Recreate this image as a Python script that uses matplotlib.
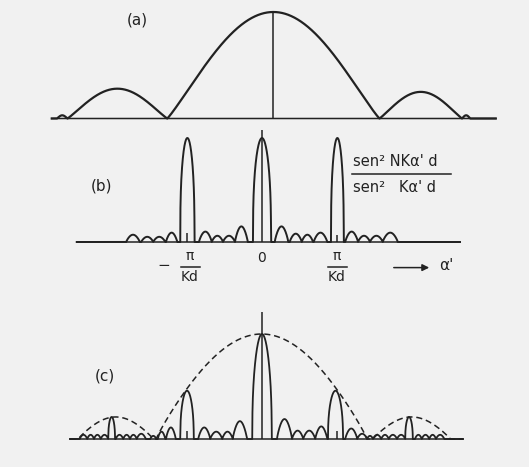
import numpy as np
import matplotlib.pyplot as plt
from matplotlib.lines import Line2D

# x in units of pi/Kd, intensity normalised to the central maximum of each panel

# (a) single-slit pattern: lobes between consecutive zeros
a_start = [-2.88, -2.74, -1.41, 1.42, 2.52]
a_end = [-2.74, -1.41, 1.42, 2.52, 2.63]
a_height = [0.03, 0.28, 1.00, 0.25, 0.03]

# (b) grating factor sen^2(NKa'd)/sen^2(Ka'd)
b_peak_start = [-1.09, -0.12, 0.92]
b_peak_end = [-0.90, 0.12, 1.09]
b_peak_height = [1.0, 1.0, 1.0]
b_lobe_start = [-1.81, -1.61, -1.45, -1.28, -0.84, -0.67, -0.52, -0.36,
                0.17, 0.37, 0.53, 0.69, 1.11, 1.28, 1.44, 1.61]
b_lobe_end = [-1.63, -1.45, -1.29, -1.13, -0.67, -0.52, -0.36, -0.19,
              0.35, 0.53, 0.68, 0.87, 1.28, 1.44, 1.61, 1.81]
b_lobe_height = [0.07, 0.05, 0.05, 0.09, 0.10, 0.06, 0.06, 0.15,
                 0.15, 0.08, 0.07, 0.09, 0.10, 0.06, 0.06, 0.09]
b_mark_pos = [-1.0, 0.0, 1.0]
b_mark_height = [0.09, 1.08, 0.07]

# (c) product of both
c_peak_start = [-2.05, -1.09, -0.13, 0.88, 1.91]
c_peak_end = [-1.96, -0.91, 0.13, 1.08, 2.01]
c_peak_height = [0.21, 0.46, 1.00, 0.46, 0.21]
c_lobe_start = [-2.43, -2.33, -2.24, -2.15, -1.95, -1.85, -1.76, -1.67,
                -1.49, -1.39, -1.28, -0.85, -0.69, -0.53, -0.39,
                0.20, 0.40, 0.55, 0.71, 1.11, 1.27, 1.40,
                1.48, 1.59, 1.69, 1.80, 2.04, 2.13, 2.23, 2.32]
c_lobe_end = [-2.33, -2.24, -2.15, -2.05, -1.85, -1.76, -1.67, -1.55,
              -1.41, -1.29, -1.15, -0.69, -0.53, -0.39, -0.20,
              0.40, 0.55, 0.71, 0.87, 1.27, 1.40, 1.48,
              1.59, 1.69, 1.80, 1.91, 2.13, 2.23, 2.32, 2.43]
c_lobe_height = [0.04, 0.04, 0.04, 0.04, 0.04, 0.04, 0.04, 0.05,
                 0.03, 0.07, 0.11, 0.11, 0.07, 0.07, 0.17,
                 0.19, 0.08, 0.08, 0.12, 0.10, 0.05, 0.03,
                 0.04, 0.04, 0.04, 0.04, 0.04, 0.04, 0.04, 0.04]
c_env_start = [-2.45, -1.41, 1.48]
c_env_end = [-1.45, 1.40, 2.51]
c_env_height = [0.21, 1.00, 0.21]
c_mark_pos = [-1.0, 0.0, 1.0]
c_mark_height = [0.08, 1.21, 0.08]

W, H = 529, 467
INK = '#222222'
UNIT = 75.0  # pixels per pi/Kd

fig = plt.figure(figsize=(W / 100, H / 100), dpi=100)
fig.patch.set_facecolor('#f1f1f1')


def panel(center, base, scale):
    ax = fig.add_axes([0, 0, 1, 1])
    ax.set_xlim(-center / UNIT, (W - center) / UNIT)
    ax.set_ylim((base - H) / scale, base / scale)
    ax.axis('off')
    ax.patch.set_alpha(0)
    return ax


def arches(x, starts, ends, heights, p):
    y = np.zeros_like(x)
    for s, e, h in zip(starts, ends, heights):
        t = (x - s) / (e - s)
        inside = (t > 0) & (t < 1)
        y[inside] += h * np.sin(np.pi * t[inside]) ** p
    return y


def txt(x, y, s, size=10, **kw):
    fig.text(x / W, 1 - y / H, s, fontsize=size, color=INK,
             ha=kw.pop('ha', 'center'), va=kw.pop('va', 'center'), **kw)


def bar(x0, x1, y):
    fig.add_artist(Line2D([x0 / W, x1 / W], [1 - y / H] * 2,
                          transform=fig.transFigure, color=INK, lw=1.1))


# panel (a)
axA = panel(273, 118.5, 106.5)
x = np.linspace(-2.95, 2.97, 4000)
axA.plot(x, np.zeros_like(x), color=INK, lw=1.1)
axA.plot(x, arches(x, a_start, a_end, a_height, 1.1), color=INK, lw=1.6)
axA.vlines(0, 0, 1.0, color=INK, lw=1.1)

# panel (b)
axB = panel(262, 242, 104)
x = np.linspace(-2.47, 2.64, 6000)
yb = arches(x, b_peak_start, b_peak_end, b_peak_height, 0.35)
yb += arches(x, b_lobe_start, b_lobe_end, b_lobe_height, 0.8)
axB.plot(x, np.zeros_like(x), color=INK, lw=1.1)
axB.plot(x, yb, color=INK, lw=1.4)
axB.vlines(b_mark_pos, 0, b_mark_height, color=INK, lw=1.1)

# panel (c)
axC = panel(262, 439, 105)
x = np.linspace(-2.56, 2.68, 6000)
yc = arches(x, c_peak_start, c_peak_end, c_peak_height, 0.4)
yc += arches(x, c_lobe_start, c_lobe_end, c_lobe_height, 0.8)
axC.plot(x, np.zeros_like(x), color=INK, lw=1.1)
axC.plot(x, yc, color=INK, lw=1.3)
axC.plot(x, arches(x, c_env_start, c_env_end, c_env_height, 0.9),
         color=INK, lw=1.1, ls=(0, (4, 2.5)))
axC.vlines(c_mark_pos, 0, c_mark_height, color=INK, lw=1.1)

# labels
txt(137, 20, '(a)', 11)
txt(101, 186, '(b)', 11)
txt(105, 376, '(c)', 11)

txt(164, 266, '\u2212', 11)
txt(190, 256, '\u03c0', 10)
bar(181, 200, 266.6)
txt(190, 277, 'Kd', 10)
txt(261.5, 257.5, '0', 10)
txt(337, 256, '\u03c0', 10)
bar(328, 347, 266.6)
txt(337, 277, 'Kd', 10)

fig.add_artist(plt.Annotation('', xy=(432 / W, 1 - 267.6 / H), xytext=(391 / W, 1 - 267.6 / H),
                              xycoords='figure fraction',
                              arrowprops=dict(arrowstyle='-|>', color=INK, lw=1.1,
                                              mutation_scale=10)))
txt(446, 266, "\u03b1'", 11)

txt(353, 162, "sen\u00b2 NK\u03b1' d", 10.5, ha='left')
bar(352, 451, 174)
txt(353, 187, "sen\u00b2   K\u03b1' d", 10.5, ha='left')

fig.savefig('out.png', dpi=100, facecolor=fig.get_facecolor())
